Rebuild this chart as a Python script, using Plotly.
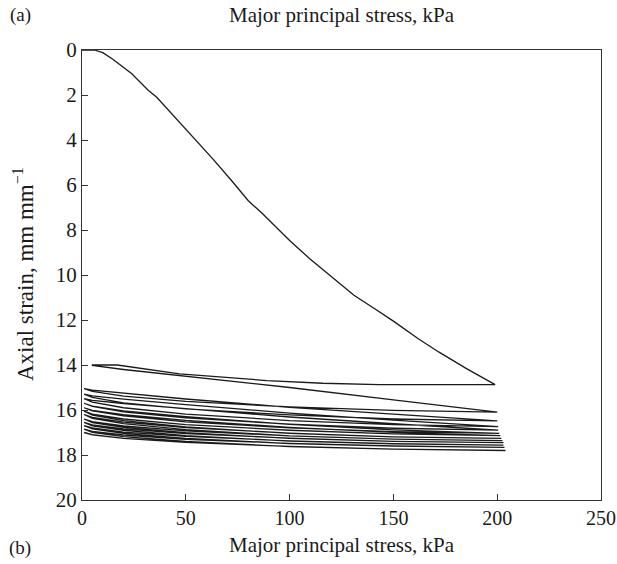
import plotly.graph_objects as go

# ---- data ----
# first loading curve
load_stress = [0, 6, 10, 15, 24, 32, 36, 50, 63, 72, 80, 87, 100, 110, 122, 131, 141, 150, 162, 172, 185, 199]
load_strain = [0, 0, 0.12, 0.42, 1.06, 1.8, 2.1, 3.5, 4.84, 5.8, 6.69, 7.28, 8.47, 9.3, 10.2, 10.9, 11.5, 12.05, 12.83, 13.43, 14.15, 14.87]

# first unloading curve (right to left)
unload0_stress = [199, 143, 116, 89, 47, 17, 5]
unload0_strain = [14.87, 14.87, 14.81, 14.69, 14.39, 14.0, 14.0]

# first reloading curve (left to right)
reload0_stress = [5, 20, 50, 100, 150, 200]
reload0_strain = [14.02, 14.2, 14.5, 15.0, 15.55, 16.09]

# later cycles: stress stations (left to right) and the peak stress of each cycle
stations = [1, 5, 20, 50, 100, 150]
peak_stress = [200, 200, 200.5, 200.5, 201, 201.5, 202, 202.5, 203, 203, 203.5, 204]

# unloading curves of cycles 1..12 (strain at stations + peak, left to right)
unload_strain = [
    [15.05, 15.17, 15.38, 15.62, 15.86, 16.02, 16.09],
    [15.3, 15.44, 15.68, 15.95, 16.22, 16.4, 16.48],
    [15.5, 15.65, 15.9, 16.18, 16.47, 16.65, 16.74],
    [15.7, 15.84, 16.08, 16.35, 16.63, 16.81, 16.89],
    [15.9, 16.04, 16.26, 16.53, 16.79, 16.96, 17.04],
    [16.05, 16.18, 16.4, 16.65, 16.9, 17.06, 17.14],
    [16.2, 16.33, 16.54, 16.78, 17.03, 17.19, 17.26],
    [16.4, 16.52, 16.71, 16.93, 17.15, 17.29, 17.36],
    [16.55, 16.66, 16.84, 17.05, 17.25, 17.39, 17.45],
    [16.7, 16.8, 16.98, 17.17, 17.37, 17.5, 17.56],
    [16.85, 16.95, 17.11, 17.3, 17.48, 17.6, 17.66],
    [17.0, 17.1, 17.26, 17.44, 17.62, 17.74, 17.8],
]

# reloading curves of cycles 1..11 (strain at stations + next peak, left to right)
reload_strain = [
    [15.05, 15.12, 15.26, 15.51, 15.88, 16.19, 16.48],
    [15.3, 15.37, 15.52, 15.76, 16.14, 16.45, 16.74],
    [15.5, 15.57, 15.71, 15.94, 16.31, 16.61, 16.89],
    [15.7, 15.83, 16.04, 16.3, 16.64, 16.88, 17.04],
    [15.9, 16.02, 16.21, 16.46, 16.77, 16.99, 17.14],
    [16.05, 16.23, 16.47, 16.75, 17.04, 17.19, 17.26],
    [16.2, 16.37, 16.61, 16.87, 17.15, 17.29, 17.36],
    [16.4, 16.56, 16.77, 17.01, 17.26, 17.39, 17.45],
    [16.55, 16.7, 16.9, 17.14, 17.38, 17.5, 17.56],
    [16.7, 16.84, 17.04, 17.26, 17.49, 17.6, 17.66],
    [16.85, 16.99, 17.18, 17.4, 17.63, 17.74, 17.8],
]

x_ticks = [0, 50, 100, 150, 200, 250]
y_ticks = [0, 2, 4, 6, 8, 10, 12, 14, 16, 18, 20]

# ---- build one continuous path ----
xs = list(load_stress) + list(unload0_stress) + list(reload0_stress)
ys = list(load_strain) + list(unload0_strain) + list(reload0_strain)
for k in range(len(unload_strain)):
    sx = stations + [peak_stress[k]]
    xs += sx[::-1]
    ys += unload_strain[k][::-1]
    if k < len(reload_strain):
        sx2 = stations + [peak_stress[k + 1]]
        xs += sx2
        ys += reload_strain[k]

FONT = "Liberation Serif"
fig = go.Figure()
fig.add_trace(go.Scatter(x=xs, y=ys, mode="lines",
                         line=dict(color="#1a1a1a", width=1.3), showlegend=False,
                         hoverinfo="skip"))

L, R, T, B = 82, 16, 50, 64
W, H = 617, 564
pw, ph = W - L - R, H - T - B


def px(xp):
    return (xp - L) / pw


def py(yp):
    return (H - B - yp) / ph


fig.update_layout(
    width=W, height=H,
    margin=dict(l=L, r=R, t=T, b=B, autoexpand=False),
    paper_bgcolor="white", plot_bgcolor="white",
    font=dict(family=FONT, size=21, color="#1a1a1a"),
    xaxis=dict(range=[0, 250], tickvals=x_ticks, ticks="inside", ticklen=6,
               tickcolor="#333", showline=True, linecolor="#333", linewidth=1.2,
               mirror=True, showgrid=False, zeroline=False, automargin=False,
               ticklabeloverflow="allow",
               tickfont=dict(family=FONT, size=20)),
    yaxis=dict(range=[20, 0], tickvals=y_ticks, ticks="inside", ticklen=6,
               tickcolor="#333", showline=True, linecolor="#333", linewidth=1.2,
               mirror=True, showgrid=False, zeroline=False, automargin=False,
               ticklabeloverflow="allow",
               tickfont=dict(family=FONT, size=21)),
    annotations=[
        dict(text="Major principal stress, kPa", x=px(342), y=py(15), xref="paper", yref="paper",
             showarrow=False, font=dict(family=FONT, size=21), xanchor="center", yanchor="middle"),
        dict(text="(a)", x=px(20), y=py(15), xref="paper", yref="paper",
             showarrow=False, font=dict(family=FONT, size=19), xanchor="center", yanchor="middle"),
        dict(text="Major principal stress, kPa", x=px(342), y=py(545), xref="paper", yref="paper",
             showarrow=False, font=dict(family=FONT, size=21), xanchor="center", yanchor="middle"),
        dict(text="(b)", x=px(20), y=py(548), xref="paper", yref="paper",
             showarrow=False, font=dict(family=FONT, size=19), xanchor="center", yanchor="middle"),
        dict(text="Axial strain, mm mm<sup>−1</sup>", x=px(23), y=py(274), xref="paper", yref="paper",
             textangle=-90, showarrow=False, font=dict(family=FONT, size=23),
             xanchor="center", yanchor="middle"),
    ],
)

fig.write_html("out.html")
